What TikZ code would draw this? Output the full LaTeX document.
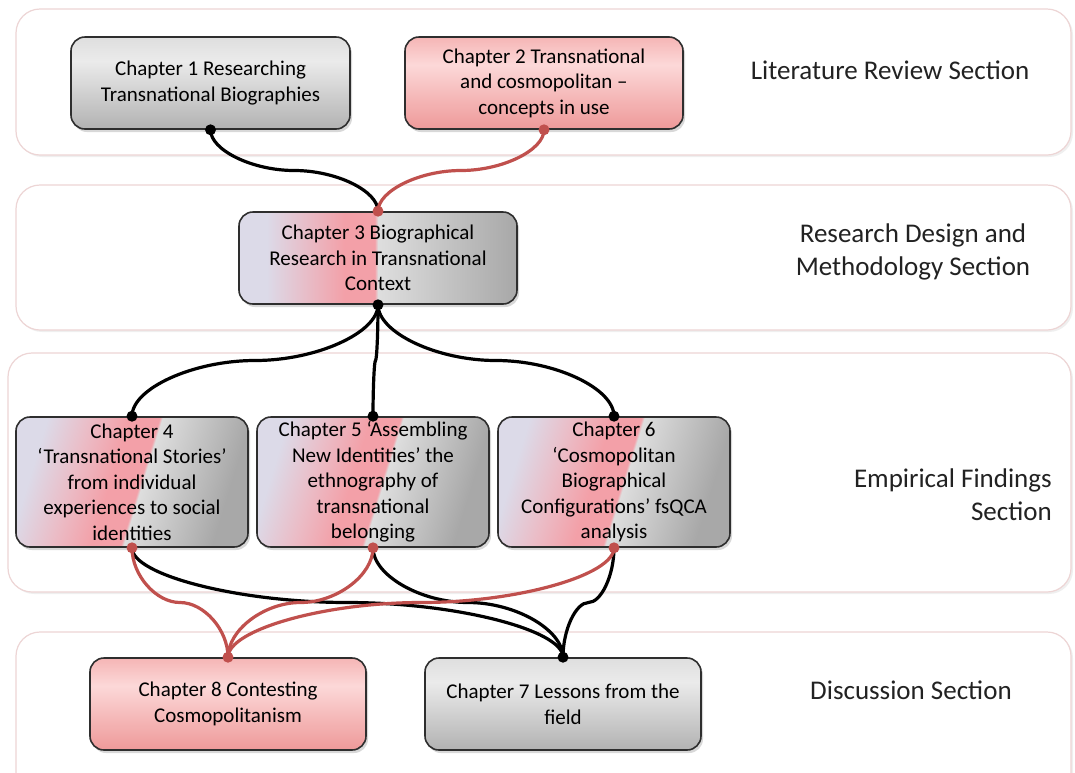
\documentclass[tikz,border=0pt]{standalone}
\usepackage{fontspec}
\setmainfont{Carlito}
\usetikzlibrary{shadows,calc}
\definecolor{secborder}{HTML}{EDD5D5}
\definecolor{boxborder}{HTML}{2E2E2E}
\definecolor{conred}{HTML}{C0504D}
\definecolor{labeltext}{HTML}{222222}
\definecolor{gT}{HTML}{DEDEDE}
\definecolor{gM}{HTML}{EBEBEB}
\definecolor{gB}{HTML}{B2B2B2}
\definecolor{pT}{HTML}{F5B5B5}
\definecolor{pM}{HTML}{FCD8D8}
\definecolor{pB}{HTML}{EE9999}
\definecolor{mL}{HTML}{DCDAE8}
\definecolor{mP}{HTML}{F3A0A8}
\definecolor{mPL}{HTML}{EBBCC6}
\definecolor{mGa}{HTML}{DEDEDE}
\definecolor{mGb}{HTML}{A8A8A8}
\pgfdeclareverticalshading{greyshade}{100bp}{color(0bp)=(gB); color(25bp)=(gB); color(62bp)=(gM); color(75bp)=(gT); color(100bp)=(gT)}
\pgfdeclareverticalshading{pinkshade}{100bp}{color(0bp)=(pB); color(25bp)=(pB); color(60bp)=(pM); color(75bp)=(pT); color(100bp)=(pT)}
\pgfdeclareverticalshading{mixshade}{100bp}{color(0bp)=(mGb); color(25bp)=(mGb); color(50bp)=(mGa); color(50.6bp)=(mP); color(56bp)=(mP); color(70bp)=(mL); color(100bp)=(mL)}
\pgfdeclareverticalshading{mixtilt}{100bp}{color(0bp)=(mGb); color(27bp)=(mGb); color(47.5bp)=(mGa); color(48.1bp)=(mP); color(55bp)=(mP); color(64bp)=(mPL); color(74bp)=(mL); color(100bp)=(mL)}
\tikzset{
  chap/.style={draw=boxborder, line width=1.6pt, rounded corners=14pt, align=center,
    inner sep=0pt, text=black, font=\fontsize{21}{25.6}\selectfont,
    drop shadow={opacity=0.3, shadow xshift=2pt, shadow yshift=-3pt}},
  greybox/.style={chap, shade, shading=greyshade, minimum width=279pt, minimum height=92pt},
  pinkbox/.style={chap, shade, shading=pinkshade, minimum width=278pt, minimum height=92pt},
  mixbox/.style={chap, shade, shading=mixshade, shading angle=90, minimum width=278pt, minimum height=92pt},
  tiltbox/.style={chap, shade, shading=mixtilt, shading angle=73, minimum width=232pt, minimum height=130pt},
  section/.style={draw=secborder, line width=1.2pt, fill=white, rounded corners=24pt,
    drop shadow={opacity=0.12, shadow xshift=2pt, shadow yshift=-2pt}},
  seclabel/.style={text=labeltext, font=\fontsize{27}{33}\selectfont, inner sep=0pt},
  pp/.style={line cap=round, to path={let \p1=(\tikztostart), \p2=(\tikztotarget) in
    .. controls (\x1,{0.75*\y1+0.25*\y2}) and ({0.75*\x1+0.25*\x2},{0.5*\y1+0.5*\y2})
    .. ({0.5*\x1+0.5*\x2},{0.5*\y1+0.5*\y2})
    .. controls ({0.25*\x1+0.75*\x2},{0.5*\y1+0.5*\y2}) and (\x2,{0.25*\y1+0.75*\y2})
    .. (\tikztotarget)}},
  blk/.style={draw=black, line width=3.2pt, pp},
  rdl/.style={draw=conred, line width=3.2pt, pp},
}
\begin{document}
\begin{tikzpicture}[x=1pt, y=-1pt]
\fill[white] (0,0) rectangle (1075,772);
\useasboundingbox (0,0) rectangle (1075,772);
% sections
\draw[section] (16,9) rectangle (1071,155);
\draw[section] (16,185) rectangle (1071,330);
\draw[section] (8,353) rectangle (1071,592);
\draw[section] (16,632) rectangle (1071,810);
% section labels
\node[seclabel] (lit) at (890,70) {Literature Review Section};
\node[seclabel, align=center] (rdm) at (913,252) {Research Design and\\Methodology Section};
\node[seclabel, align=right, anchor=east] (emp) at (1052,495) {Empirical Findings\\Section};
\node[seclabel] (dis) at (911,690) {Discussion Section};
% chapters
\node[greybox] (ch1) at (210.5,83) {Chapter 1 Researching\\Transnational Biographies};
\node[pinkbox] (ch2) at (544,83) {Chapter 2 Transnational\\and cosmopolitan –\\concepts in use};
\node[mixbox] (ch3) at (378,258) {Chapter 3 Biographical\\Research in Transnational\\Context};
\node[tiltbox] (ch4) at (132,482) {Chapter 4\\‘Transnational Stories’\\from individual\\experiences to social\\identities};
\node[tiltbox] (ch5) at (373,482) {Chapter 5 ‘Assembling\\New Identities’ the\\ethnography of\\transnational\\belonging};
\node[tiltbox] (ch6) at (614,482) {Chapter 6\\‘Cosmopolitan\\Biographical\\Configurations’ fsQCA\\analysis};
\node[pinkbox, minimum width=276pt] (ch8) at (228,704) {Chapter 8 Contesting\\Cosmopolitanism};
\node[greybox, minimum width=276pt] (ch7) at (563,704) {Chapter 7 Lessons from the\\field};
% connectors
\draw[blk] (ch1.south) to (ch3.north);
\draw[rdl] (ch2.south) to (ch3.north);
\draw[blk] (ch3.south) to (ch4.north);
\draw[blk] (ch3.south) to (ch5.north);
\draw[blk] (ch3.south) to (ch6.north);
\draw[blk] (ch4.south) to (ch7.north);
\draw[blk] (ch5.south) to (ch7.north);
\draw[blk] (ch6.south) to (ch7.north);
\draw[rdl] (ch4.south) to (ch8.north);
\draw[rdl] (ch5.south) to (ch8.north);
\draw[rdl] (ch6.south) to (ch8.north);
% end dots
\fill[black] (ch1.south) circle[radius=5.5pt];
\fill[conred] (ch2.south) circle[radius=5.5pt];
\fill[conred] (ch3.north) circle[radius=5.5pt];
\fill[black] (ch3.south) circle[radius=5.5pt];
\fill[black] (ch4.north) circle[radius=5.5pt];
\fill[black] (ch5.north) circle[radius=5.5pt];
\fill[black] (ch6.north) circle[radius=5.5pt];
\fill[conred] (ch4.south) circle[radius=5.5pt];
\fill[conred] (ch5.south) circle[radius=5.5pt];
\fill[conred] (ch6.south) circle[radius=5.5pt];
\fill[conred] (ch8.north) circle[radius=5.5pt];
\fill[black] (ch7.north) circle[radius=5.5pt];
\end{tikzpicture}
\end{document}
